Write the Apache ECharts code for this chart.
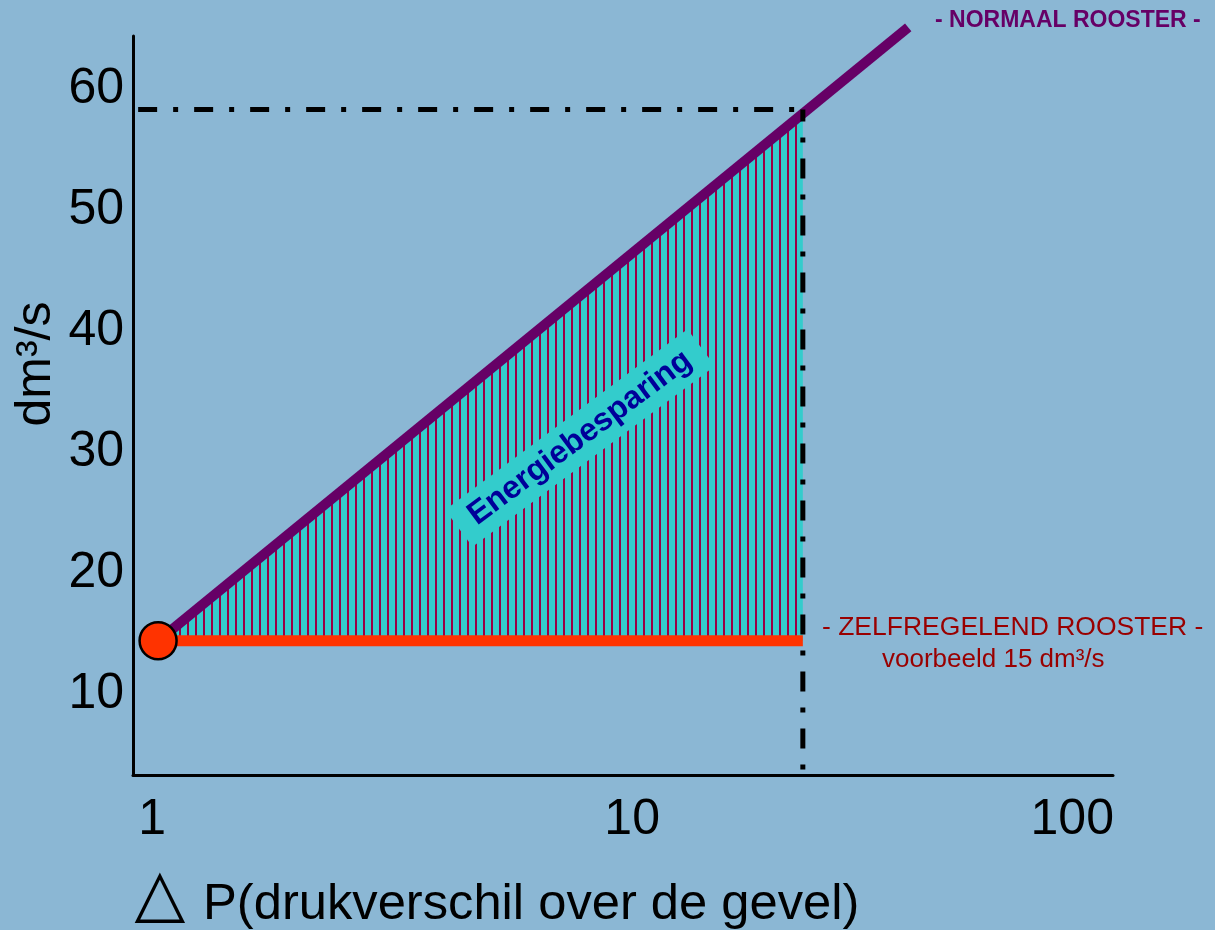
<!DOCTYPE html>
<html><head><meta charset="utf-8">
<script src="https://cdn.jsdelivr.net/npm/echarts@6/dist/echarts.min.js"></script>
<style>html,body{margin:0;padding:0;background:#8BB7D4;}#c{width:1215px;height:930px;}</style>
</head><body><div id="c"></div>
<script>
// ---- data ----
const pressureTicks = [1, 10, 100];          // x tick labels (log axis)
const flowTicks = [10, 20, 30, 40, 50, 60];  // y tick labels
const normaalPressure = [1, 42.7];           // normaal rooster line
const normaalFlow = [14.4, 65.1];
const zelfPressure = [1, 25.2];              // zelfregelend rooster line
const zelfFlow = [14.4, 14.4];
const savingPressure = [1, 25.2];            // energiebesparing area (upper edge)
const savingFlow = [14.4, 58.0];
const guidePressure = [0.905, 25.2];         // dash-dot guide lines
const guideFlow = [58.3, 3.31];

const FONT = "'Liberation Sans', Arial, sans-serif";
const xMin = 0.882, xMax = 119, yMin = 3.31, yMax = 64.38;

// hatch pattern
const pc = document.createElement('canvas');
pc.width = 8; pc.height = 8;
const pctx = pc.getContext('2d');
pctx.fillStyle = '#33CCCC'; pctx.fillRect(0, 0, 8, 8);
pctx.fillStyle = '#990044'; pctx.fillRect(3, 0, 2, 8);

const zip = (a, b) => a.map((v, i) => [v, b[i]]);
const labelStyle = {fontSize: 50, fontFamily: FONT, color: '#000'};

const chart = echarts.init(document.getElementById('c'), null, {renderer: 'canvas'});
const option = {
  backgroundColor: '#8BB7D4',
  animation: false,
  grid: {left: 133, right: 102, top: 36, bottom: 155, containLabel: false, outerBoundsMode: 'none'},
  xAxis: {
    type: 'log', logBase: 10, min: xMin, max: xMax,
    axisLine: {show: true, onZero: false, lineStyle: {color: '#000', width: 3}},
    axisTick: {show: false},
    splitLine: {show: false},
    axisLabel: {
      show: true, margin: 20, color: '#000', fontSize: 50, fontFamily: FONT,
      rich: {
        a: Object.assign({padding: [0, 12, 0, 0]}, labelStyle),
        b: Object.assign({padding: [0, 0, 0, 28]}, labelStyle),
        c: Object.assign({padding: [0, 12, 0, 0]}, labelStyle)
      },
      formatter: v => {
        const i = pressureTicks.findIndex(p => Math.abs(p - v) / p < 1e-6);
        return i >= 0 ? '{' + 'abc'[i] + '|' + pressureTicks[i] + '}' : '';
      }
    }
  },
  yAxis: {
    type: 'value', min: yMin, max: yMax,
    axisLine: {show: true, onZero: false, lineStyle: {color: '#000', width: 3}},
    axisTick: {show: false},
    splitLine: {show: false},
    axisLabel: {
      show: true, margin: 9, color: '#000', fontSize: 50, fontFamily: FONT,
      formatter: v => {
        const t = flowTicks.find(p => Math.abs(p - v) < 1e-6);
        return t !== undefined ? String(t) : '';
      }
    }
  },
  series: [
    {
      name: 'Energiebesparing', type: 'line', z: 1,
      data: zip(savingPressure, savingFlow),
      symbol: 'none', lineStyle: {width: 0},
      areaStyle: {origin: zelfFlow[0], opacity: 1, color: {image: pc, repeat: 'repeat'}}
    },
    {
      name: 'Normaal rooster', type: 'line', z: 2, clip: false,
      data: zip(normaalPressure, normaalFlow),
      symbol: 'none',
      lineStyle: {color: '#660066', width: 10, cap: 'butt'}
    },
    {
      name: 'Zelfregelend rooster', type: 'line', z: 3,
      data: zelfPressure.map((p, i) => i === 0
        ? {value: [p, zelfFlow[i]], symbol: 'circle', symbolSize: 37,
           itemStyle: {color: '#FF3300', borderColor: '#000', borderWidth: 2.5}}
        : {value: [p, zelfFlow[i]], symbol: 'none'}),
      showSymbol: true,
      lineStyle: {color: '#FF3300', width: 11, cap: 'butt'},
      itemStyle: {color: '#FF3300'}
    },
    {
      name: 'guideH', type: 'line', z: 4,
      data: [[guidePressure[0], guideFlow[0]], [guidePressure[1], guideFlow[0]]],
      symbol: 'none',
      lineStyle: {color: '#000', width: 5, type: [19, 16, 5, 16], cap: 'butt'}
    },
    {
      name: 'guideV', type: 'line', z: 4,
      data: [[guidePressure[1], guideFlow[0]], [guidePressure[1], guideFlow[1]]],
      symbol: 'none',
      lineStyle: {color: '#000', width: 5, type: [20, 16, 5, 16], dashOffset: 8, cap: 'butt'}
    }
  ],
  graphic: [
    {type: 'text', x: 935, y: 21, z: 100,
     style: {text: '- NORMAAL ROOSTER -', fill: '#660066', fontSize: 23, fontWeight: 'bold', fontFamily: FONT, verticalAlign: 'middle'}},
    {type: 'text', x: 822, y: 628, z: 100,
     style: {text: '- ZELFREGELEND ROOSTER -', fill: '#990000', fontSize: 26.5, fontFamily: FONT, verticalAlign: 'middle'}},
    {type: 'text', x: 882, y: 660, z: 100,
     style: {text: 'voorbeeld 15 dm³/s', fill: '#990000', fontSize: 26, fontFamily: FONT, verticalAlign: 'middle'}},
    {type: 'text', x: 580, y: 438, z: 100, rotation: 36.7 * Math.PI / 180,
     style: {text: 'Energiebesparing', fill: '#000099', fontSize: 32, fontWeight: 'bold', fontFamily: FONT,
             align: 'center', verticalAlign: 'middle', backgroundColor: '#33CCCC', padding: [7, 16]}},
    {type: 'text', x: 36, y: 364, z: 100, rotation: Math.PI / 2,
     style: {text: 'dm³/s', fill: '#000', fontSize: 50, fontFamily: FONT, align: 'center', verticalAlign: 'middle'}},
    {type: 'text', x: 160, y: 898, z: 100,
     style: {text: '△', fill: '#000', fontSize: 66, fontFamily: "'DejaVu Sans', sans-serif", align: 'center', verticalAlign: 'middle'}},
    {type: 'text', x: 203, y: 905, z: 100,
     style: {text: 'P(drukverschil over de gevel)', fill: '#000', fontSize: 50.7, fontFamily: FONT, verticalAlign: 'middle'}}
  ]
};
chart.setOption(option);
</script>
</body></html>
